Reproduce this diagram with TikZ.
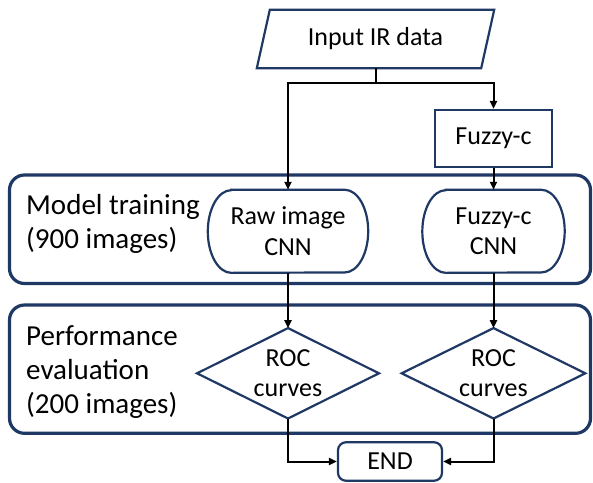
\documentclass[tikz,border=0pt]{standalone}
\usepackage{fontspec}
\setmainfont{Carlito}
\usetikzlibrary{arrows.meta,calc}
\definecolor{navy}{RGB}{31,56,100}
\begin{document}
\begin{tikzpicture}[x=1pt,y=-1pt,
  ntext/.style={font=\fontsize{26}{30.5}\selectfont, align=center, inner sep=0pt},
  ltext/.style={font=\fontsize{29}{34}\selectfont, align=left, inner sep=0pt, anchor=base west},
  group/.style={draw=navy, line width=3.2pt, rounded corners=15pt, inner sep=0pt, fill=white},
  outl/.style={draw=navy, line width=2.2pt},
  wire/.style={draw=black, line width=2pt},
  conn/.style={wire, -{Triangle[length=8pt,width=7pt]}}
]
\useasboundingbox (0,0) rectangle (593,482);
\fill[white] (0,0) rectangle (593,482);

% containers
\node[group, minimum width=581pt, minimum height=108.5pt] (train) at (300,229.25) {};
\node[group, minimum width=581pt, minimum height=128.3pt] (perf) at (300,369.15) {};

% container labels (anchor = baseline of last line)
\node[ltext] (trainlbl) at (26,248) {Model training\\(900 images)};
\node[ltext] (perflbl) at (26,413) {Performance\\evaluation\\(200 images)};

% input parallelogram
\node[ntext, minimum width=224pt, minimum height=58pt] (inp) at (375.5,39) {Input IR data};
\draw[outl] ([xshift=6.5pt]inp.north west) -- ([xshift=6.5pt]inp.north east)
  -- ([xshift=-6.5pt]inp.south east) -- ([xshift=-6.5pt]inp.south west) -- cycle;

% fuzzy-c box
\node[ntext, outl, minimum width=117.5pt, minimum height=57pt] (fz) at (493.5,138.5) {Fuzzy-c};

% CNN terminators
\node[ntext, minimum width=160pt, minimum height=82.7pt] (raw) at (288,231.3) {Raw image\\CNN};
\draw[outl] ([xshift=23.5pt]raw.north west) -- ([xshift=-23.5pt]raw.north east)
  arc[start angle=90, end angle=-90, x radius=23.5pt, y radius=41.35pt]
  -- ([xshift=23.5pt]raw.south west)
  arc[start angle=270, end angle=90, x radius=23.5pt, y radius=41.35pt] -- cycle;

\node[ntext, minimum width=142pt, minimum height=82.7pt] (fzcnn) at (493.5,231.3) {Fuzzy-c\\CNN};
\draw[outl] ([xshift=23.5pt]fzcnn.north west) -- ([xshift=-23.5pt]fzcnn.north east)
  arc[start angle=90, end angle=-90, x radius=23.5pt, y radius=41.35pt]
  -- ([xshift=23.5pt]fzcnn.south west)
  arc[start angle=270, end angle=90, x radius=23.5pt, y radius=41.35pt] -- cycle;

% ROC diamonds
\node[ntext, minimum width=181.5pt, minimum height=90pt] (roca) at (288,373.3) {ROC\\curves};
\draw[outl] (roca.north) -- (roca.east) -- (roca.south) -- (roca.west) -- cycle;
\node[ntext, minimum width=183.3pt, minimum height=90pt] (rocb) at (493.5,373.3) {ROC\\curves};
\draw[outl] (rocb.north) -- (rocb.east) -- (rocb.south) -- (rocb.west) -- cycle;

% END
\node[ntext, outl, rounded corners=8pt, fill=white, minimum width=104pt, minimum height=38.5pt] (endn) at (390,461.5) {END};

% connectors
\coordinate (split) at (375.5,83);
\draw[wire] (inp.south) -- (split);
\draw[conn] (split) -| (raw.north);
\draw[conn] (split) -| (fz.north);
\draw[conn] (fz.south) -- (fzcnn.north);
\draw[conn] (raw.south) -- (roca.north);
\draw[conn] (fzcnn.south) -- (rocb.north);
\draw[conn] (roca.south) |- (endn.west);
\draw[conn] (rocb.south) |- (endn.east);
\end{tikzpicture}
\end{document}
